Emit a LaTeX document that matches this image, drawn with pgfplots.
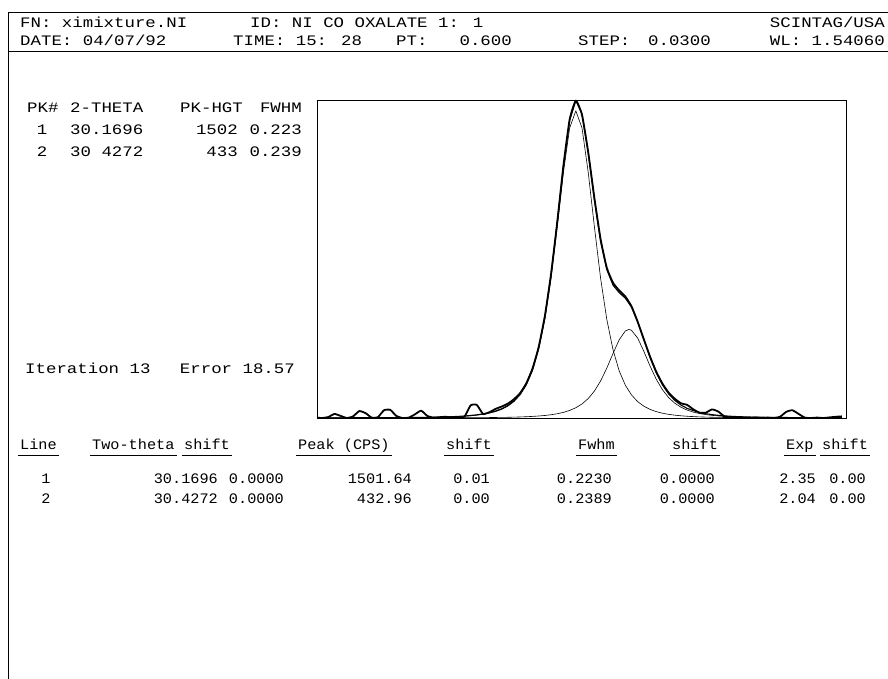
\documentclass[border=0pt]{standalone}
\usepackage{fontspec}
\setmainfont{Liberation Mono}[FakeStretch=1.2]
\newfontfamily\tblfont{Liberation Mono}[FakeStretch=1.05]
\usepackage{pgfplots}
\pgfplotsset{compat=1.18}
\begin{document}
\fontsize{14.5}{16}\selectfont
\begin{tikzpicture}
\begin{scope}[x=1pt,y=-1pt]
\path[use as bounding box] (0,0) rectangle (888,679);
\tikzset{t/.style={inner sep=0pt, anchor=base west, font=\fontsize{14.5}{16}\selectfont},
         r/.style={inner sep=0pt, anchor=base east, font=\fontsize{14.5}{16}\selectfont},
         c/.style={inner sep=0pt, anchor=base, font=\fontsize{14.5}{16}\selectfont},
         bt/.style={inner sep=0pt, anchor=base west, font=\tblfont\fontsize{14.5}{16}\selectfont},
         br/.style={inner sep=0pt, anchor=base east, font=\tblfont\fontsize{14.5}{16}\selectfont},
         bc/.style={inner sep=0pt, anchor=base, font=\tblfont\fontsize{14.5}{16}\selectfont}}
\draw[line width=0.7pt] (8,12) -- (888,12);
\draw[line width=0.7pt] (8,51) -- (888,51);
\draw[line width=1pt] (8,12) -- (8,679);
% header
\node[t] at (20,28) {FN: ximixture.NI};
\node[t] at (250,28) {ID: NI CO OXALATE 1: 1};
\node[r] at (885,28) {SCINTAG/USA};
\node[t] at (20,46) {DATE: 04/07/92};
\node[t] at (233,46) {TIME: 15: 28};
\node[t] at (396,46) {PT:};
\node[r] at (512,46) {0.600};
\node[t] at (578,46) {STEP:};
\node[r] at (711,46) {0.0300};
\node[r] at (885,46) {WL: 1.54060};
% peak table
\node[t] at (27,113) {PK\#};
\node[t] at (70,113) {2-THETA};
\node[t] at (180,113) {PK-HGT};
\node[r] at (302,113) {FWHM};
\node[c] at (42,135) {1};
\node[t] at (70,135) {30.1696};
\node[r] at (238,135) {1502};
\node[r] at (302,135) {0.223};
\node[c] at (42,157) {2};
\node[t] at (70,157) {30 4272};
\node[r] at (238,157) {433};
\node[r] at (302,157) {0.239};
\node[t] at (25,373) {Iteration 13};
\node[r] at (295,373) {Error 18.57};
% results table
\node[bt] (h1) at (20,449) {Line};
\node[bt] (h2) at (92,449) {Two-theta};
\node[bt] (h3) at (184,449) {shift};
\node[bt] (h4) at (298,449) {Peak (CPS)};
\node[bt] (h5) at (446,449) {shift};
\node[bt] (h6) at (578,449) {Fwhm};
\node[bt] (h7) at (672,449) {shift};
\node[bt] (h8) at (786,449) {Exp};
\node[bt] (h9) at (822,449) {shift};
\foreach \n in {h1,h2,h3,h4,h5,h6,h7,h8,h9}
  \draw[line width=0.8pt] ([yshift=-6pt,xshift=-2pt]\n.base west) -- ([yshift=-6pt,xshift=2pt]\n.base east);
\node[bc] at (46,483) {1};
\node[br] at (218,483) {30.1696};
\node[br] at (284,483) {0.0000};
\node[br] at (412,483) {1501.64};
\node[br] at (490,483) {0.01};
\node[br] at (612,483) {0.2230};
\node[br] at (715,483) {0.0000};
\node[br] at (816,483) {2.35};
\node[br] at (866,483) {0.00};
\node[bc] at (46,503) {2};
\node[br] at (218,503) {30.4272};
\node[br] at (284,503) {0.0000};
\node[br] at (412,503) {432.96};
\node[br] at (490,503) {0.00};
\node[br] at (612,503) {0.2389};
\node[br] at (715,503) {0.0000};
\node[br] at (816,503) {2.04};
\node[br] at (866,503) {0.00};
\end{scope}
\begin{axis}[at={(317pt,-418pt)}, anchor=south west, scale only axis,
  width=529pt, height=318pt, xmin=28.915, xmax=31.48, ymin=0, ymax=1555,
  xtick=\empty, ytick=\empty, axis line style={line width=0.9pt},
  every axis plot/.append style={black, mark=none, line join=round}]
% observed
\addplot[line width=1.8pt, smooth, tension=0.3] coordinates {(28.91,2) (28.94,0) (28.97,5) (29.00,20) (29.03,10) (29.06,0) (29.09,8) (29.12,34) (29.15,24) (29.18,2) (29.21,4) (29.24,38) (29.27,40) (29.30,10) (29.33,0) (29.36,2) (29.39,18) (29.42,36) (29.45,10) (29.48,2) (29.51,4) (29.54,6) (29.57,2) (29.60,0) (29.63,6) (29.66,62) (29.69,64) (29.72,20) (29.75,28) (29.78,44) (29.81,56) (29.84,70) (29.87,92) (29.90,122) (29.93,170) (29.96,242) (29.99,348) (30.02,500) (30.05,706) (30.08,960) (30.11,1236) (30.14,1460) (30.17,1552) (30.20,1482) (30.23,1300) (30.26,1076) (30.29,875) (30.32,735) (30.35,662) (30.38,624) (30.41,594) (30.44,546) (30.47,470) (30.50,384) (30.53,300) (30.56,226) (30.59,168) (30.62,124) (30.65,94) (30.68,72) (30.71,64) (30.74,42) (30.77,26) (30.80,26) (30.83,42) (30.86,32) (30.89,8) (30.92,2) (30.95,0) (30.98,2) (31.01,0) (31.04,3) (31.07,0) (31.10,2) (31.13,0) (31.16,6) (31.19,30) (31.22,38) (31.25,20) (31.28,2) (31.31,0) (31.34,2) (31.37,0) (31.40,3) (31.43,6) (31.46,8)};
% fitted sum
\addplot[line width=1.1pt] coordinates {(28.91,0.7) (28.97,0.8) (29.03,0.9) (29.09,1.0) (29.15,1.2) (29.21,1.4) (29.27,1.6) (29.33,2.0) (29.39,2.4) (29.45,3.0) (29.51,3.9) (29.54,4.5) (29.57,6.4) (29.60,7.8) (29.63,9.8) (29.66,12.3) (29.69,15.6) (29.72,20) (29.75,26) (29.78,34) (29.81,45) (29.84,61) (29.87,84) (29.90,118) (29.93,167) (29.96,239) (29.99,345) (30.02,495) (30.05,700) (30.08,956) (30.11,1230) (30.14,1455) (30.17,1552) (30.20,1487) (30.23,1297) (30.26,1067) (30.29,865) (30.32,727) (30.35,650) (30.38,613) (30.41,586) (30.44,542) (30.47,470) (30.50,383) (30.53,296) (30.56,221) (30.59,162) (30.62,118) (30.65,86) (30.68,63) (30.71,47) (30.74,36) (30.77,27) (30.80,21) (30.83,16.5) (30.86,13) (30.89,10.5) (30.92,8.5) (30.95,7) (30.98,5.8) (31.01,4.9) (31.04,4.1) (31.07,3.6) (31.13,2.9) (31.22,2.0) (31.31,1.6) (31.46,1.1)};
% component 1
\addplot[line width=0.6pt] coordinates {(28.91,0.35) (28.97,0.4) (29.12,0.6) (29.27,1.0) (29.42,2.1) (29.51,3.6) (29.57,5.4) (29.60,6.8) (29.63,8.5) (29.66,10.8) (29.69,13.8) (29.72,17.9) (29.75,23.5) (29.78,31.2) (29.81,42.1) (29.84,57.6) (29.87,79.9) (29.90,112.6) (29.93,160.5) (29.96,231) (29.99,335) (30.02,483) (30.05,684) (30.08,935) (30.11,1202) (30.14,1418) (30.17,1502) (30.20,1418) (30.23,1202) (30.26,935) (30.29,684) (30.32,483) (30.35,335) (30.38,231) (30.41,160.5) (30.44,112.6) (30.47,79.9) (30.50,57.6) (30.53,42.1) (30.56,31.2) (30.59,23.5) (30.62,17.9) (30.65,13.8) (30.68,10.8) (30.71,8.5) (30.74,6.8) (30.77,5.4) (30.83,3.6) (30.92,2.1) (31.07,1.0) (31.22,0.6) (31.46,0.3)};
% component 2
\addplot[line width=0.6pt] coordinates {(28.91,0.4) (29.27,0.6) (29.57,1.1) (29.72,1.8) (29.81,3.0) (29.84,3.5) (29.87,4.2) (29.90,5.1) (29.93,6.3) (29.96,7.8) (29.99,9.8) (30.02,12.4) (30.05,16.0) (30.08,20.9) (30.11,27.6) (30.14,37.0) (30.17,50.2) (30.20,68.8) (30.23,95.1) (30.26,131.7) (30.29,181.0) (30.32,243.6) (30.35,314.9) (30.38,382.2) (30.41,425.7) (30.4272,433) (30.44,428.9) (30.47,390.5) (30.50,325.5) (30.53,253.7) (30.56,189.4) (30.59,138.1) (30.62,99.8) (30.65,72.2) (30.68,52.6) (30.71,38.7) (30.74,28.8) (30.77,21.8) (30.80,16.6) (30.83,12.9) (30.86,10.1) (30.89,8.0) (30.92,6.4) (30.95,5.2) (30.98,4.3) (31.01,3.6) (31.04,3.0) (31.10,2.2) (31.22,1.3) (31.46,0.8)};
\end{axis}
\end{tikzpicture}
\end{document}
